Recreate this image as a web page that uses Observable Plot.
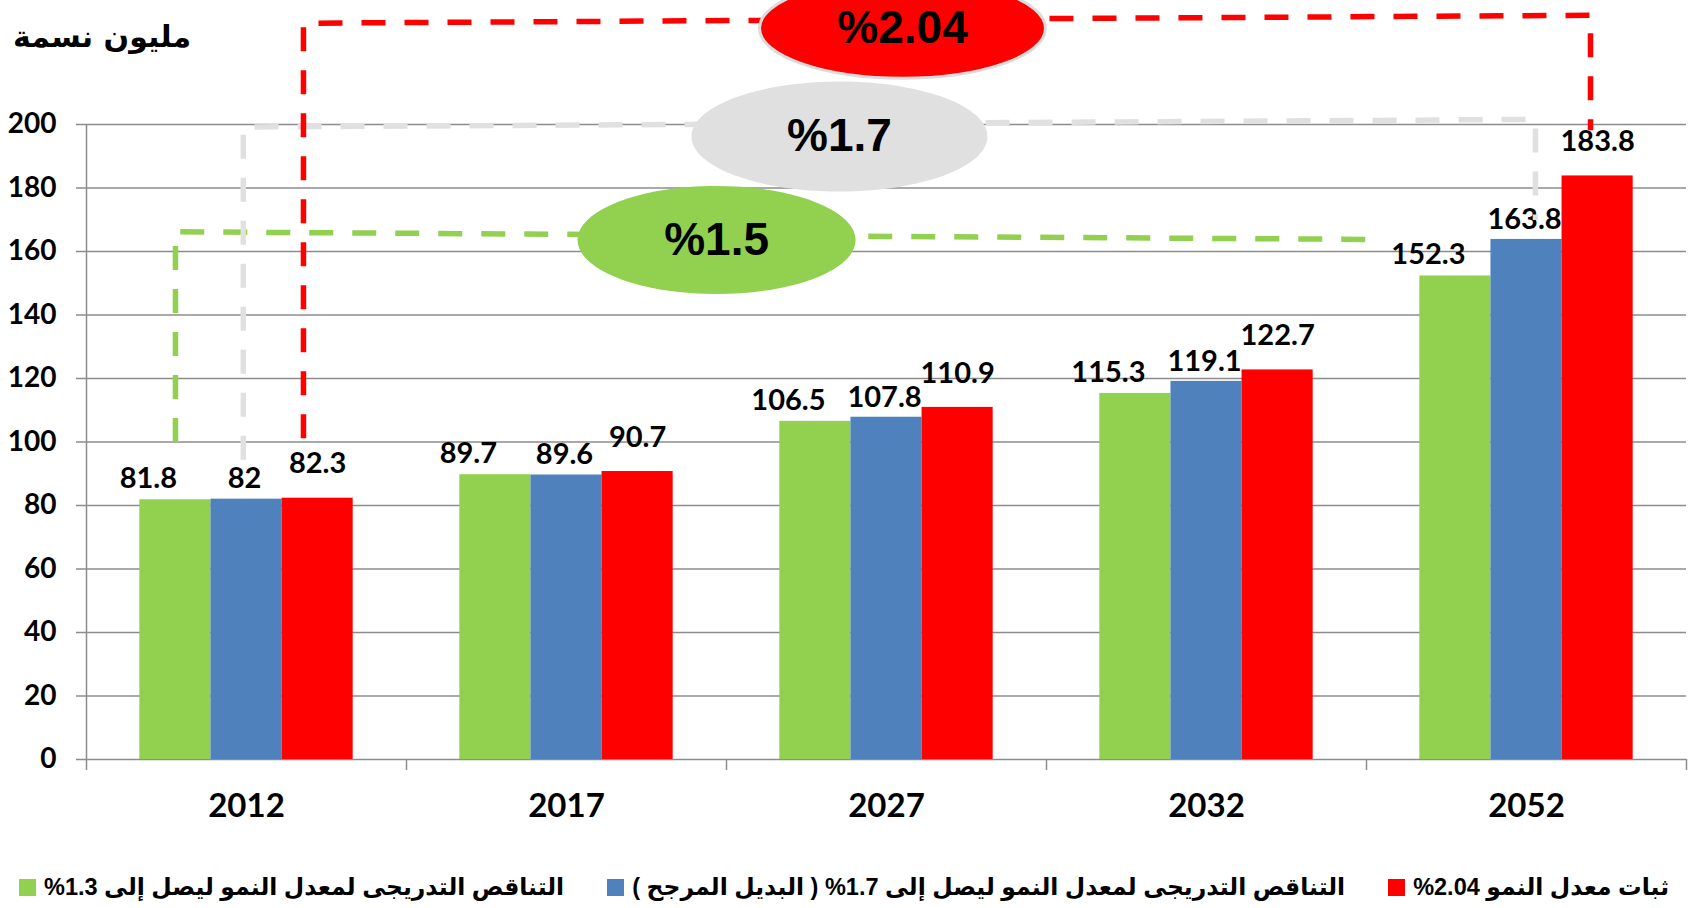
<!DOCTYPE html>
<html>
<head>
<meta charset="utf-8">
<script src="https://cdn.jsdelivr.net/npm/d3@7"></script>
<script src="https://cdn.jsdelivr.net/npm/@observablehq/plot@0.6"></script>
<style>
  body { margin: 0; background: #fff; }
  #wrap { position: relative; width: 1694px; height: 908px; overflow: hidden; background: #fff; }
  #chart { position: absolute; left: 0; top: 0; }
  #title { position: absolute; left: 13px; top: 19px; font: bold 30px "DejaVu Sans", sans-serif; direction: rtl; color: #000; white-space: nowrap; }
  #legend { position: absolute; left: 0; top: 864px; width: 1694px; height: 46px; box-sizing: border-box;
            padding: 0 25px 0 19px; display: flex; flex-direction: row-reverse; justify-content: space-between; align-items: center;
            font: bold 23.5px "Liberation Sans", "DejaVu Sans", sans-serif; color: #000; }
  .item { display: flex; flex-direction: row; align-items: center; gap: 8px; white-space: nowrap; }
  .sw { width: 17px; height: 17px; display: inline-block; }
  .lt { direction: rtl; unicode-bidi: isolate; }
</style>
</head>
<body>
<div id="wrap">
  <div id="chart"></div>
  <div id="title"></div>
  <div id="legend"></div>
</div>
<script>
// ---------------- data ----------------
const years = ["2012", "2017", "2027", "2032", "2052"];
const seriesNames = [
  "التناقص التدريجى لمعدل النمو ليصل إلى 1.3%",
  "التناقص التدريجى لمعدل النمو ليصل إلى  1.7% ( البديل المرجح )",
  "ثبات معدل النمو 2.04%"
];
const seriesColors = ["#92d050", "#4f81bd", "#ff0000"];
const greenValues = [81.8, 89.7, 106.5, 115.3, 152.3];
const blueValues  = [82, 89.6, 107.8, 119.1, 163.8];
const redValues   = [82.3, 90.7, 110.9, 122.7, 183.8];
const yTicks = [0, 20, 40, 60, 80, 100, 120, 140, 160, 180, 200];
const yTitle = "مليون نسمة";

// growth-rate annotations: label, colour, bracket path (category index, value), bubble centre
const rateLabels = ["%1.5", "%1.7", "%2.04"];
const rateColors = ["#92d050", "#e0e0e0", "#ff0000"];
const rateBrackets = [
  [[0.278, 100.0], [0.278, 166.2], [4.02, 163.8]],
  [[0.49, 94.4], [0.49, 199.2], [4.528, 201.6], [4.528, 169.9]],
  [[0.678, 101.2], [0.678, 231.9], [4.70, 234.4], [4.70, 198.2]]
];
const rateCenters = [[1.969, 163.6], [2.353, 196.2], [2.55, 230.3]];

// ---------------- layout helpers ----------------
const groupWidth = 2 / 3;                       // share of each category taken by the bar group
const barWidth = groupWidth / seriesNames.length;
const seriesValues = [greenValues, blueValues, redValues];
const bars = [];
seriesValues.forEach((vals, s) => vals.forEach((v, i) => {
  const x1 = i + (1 - groupWidth) / 2 + s * barWidth;
  bars.push({year: years[i], series: s, value: v, x1, x2: x1 + barWidth, xc: x1 + barWidth / 2});
}));

function ellipseSymbol(rx, ry) {
  const k = 0.5523;
  return {
    draw(ctx) {
      ctx.moveTo(rx, 0);
      ctx.bezierCurveTo(rx, ry * k, rx * k, ry, 0, ry);
      ctx.bezierCurveTo(-rx * k, ry, -rx, ry * k, -rx, 0);
      ctx.bezierCurveTo(-rx, -ry * k, -rx * k, -ry, 0, -ry);
      ctx.bezierCurveTo(rx * k, -ry, rx, -ry * k, rx, 0);
      ctx.closePath();
    }
  };
}
const bubbleSizes = [[139, 54], [148, 55], [143, 50]];
const bubbleStroke = [null, null, "#dcdcdc"];

const numFont = "Lato, 'Open Sans', sans-serif";
const labelOffsets = [[-27, -21], [-2, -20], [0, -34]];

const marks = [
  // gridlines (extend 10px left of axis as tick marks)
  Plot.ruleY(yTicks, {stroke: "#8c8c8c", strokeWidth: 1.5, insetLeft: -10}),
  // y axis line
  Plot.ruleX([0], {y1: 200, y2: 0, stroke: "#8c8c8c", strokeWidth: 1.5, insetBottom: -11}),
  // x tick marks between categories
  Plot.ruleX(d3.range(1, years.length + 1), {y1: 0, y2: 0, stroke: "#8c8c8c", strokeWidth: 1.5, insetBottom: -11}),
  // bars
  Plot.rect(bars, {x1: "x1", x2: "x2", y1: 0, y2: "value", fill: d => seriesColors[d.series]}),
];
// value labels
seriesValues.forEach((vals, s) => {
  marks.push(Plot.text(bars.filter(d => d.series === s), {
    x: "xc", y: "value", text: d => String(d.value),
    dx: labelOffsets[s][0], dy: labelOffsets[s][1],
    fontSize: 29, fontWeight: "bold", fontFamily: numFont, fill: "#000"
  }));
});
// brackets
rateBrackets.forEach((path, k) => {
  marks.push(Plot.line(path, {x: d => d[0], y: d => d[1], stroke: rateColors[k], strokeWidth: 5.5,
    strokeDasharray: "24,19", strokeLinejoin: "miter", strokeLinecap: "butt"}));
});
// bubbles (gray first, then green over it, red on top)
[1, 0, 2].forEach(k => {
  marks.push(Plot.dot([rateCenters[k]], {x: d => d[0], y: d => d[1], r: 10,
    symbol: ellipseSymbol(bubbleSizes[k][0], bubbleSizes[k][1]),
    fill: rateColors[k], stroke: bubbleStroke[k] || "none", strokeWidth: 3}));
  marks.push(Plot.text([rateCenters[k]], {x: d => d[0], y: d => d[1], text: () => rateLabels[k],
    fontSize: 46, fontWeight: "bold", fontFamily: "'Liberation Sans', Arial, sans-serif", fill: "#000"}));
});
// y tick labels
marks.push(Plot.text(yTicks, {x: 0, y: d => d, text: d => String(d), dx: -30, textAnchor: "end",
  fontSize: 28, fontWeight: "bold", fontFamily: numFont, fill: "#000"}));
// x category labels
marks.push(Plot.text(years, {x: (d, i) => i + 0.5, y: 0, text: d => d, dy: 47,
  fontSize: 33, fontWeight: "bold", fontFamily: numFont, fill: "#000"}));

const chart = Plot.plot({
  width: 1694, height: 862,
  marginLeft: 86, marginRight: 8, marginTop: 124, marginBottom: 103,
  x: {domain: [0, years.length], axis: null},
  y: {domain: [0, 200], axis: null},
  style: {background: "transparent", overflow: "visible"},
  marks
});
document.getElementById("chart").appendChild(chart);

document.getElementById("title").textContent = yTitle;

const legend = document.getElementById("legend");
[2, 1, 0].forEach(s => {
  const item = document.createElement("div");
  item.className = "item";
  const sw = document.createElement("span");
  sw.className = "sw";
  sw.style.background = seriesColors[s];
  const t = document.createElement("span");
  t.className = "lt";
  t.textContent = seriesNames[s];
  item.appendChild(sw);
  item.appendChild(t);
  legend.appendChild(item);
});
</script>
</body>
</html>
